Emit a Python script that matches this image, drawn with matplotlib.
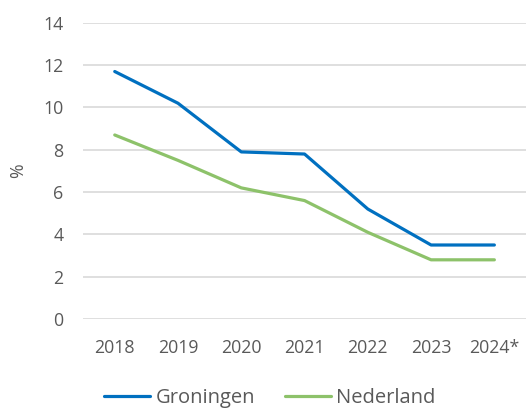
import matplotlib
matplotlib.use("Agg")
import matplotlib.pyplot as plt

years = ["2018", "2019", "2020", "2021", "2022", "2023", "2024*"]
groningen = [11.7, 10.2, 7.9, 7.8, 5.2, 3.5, 3.5]
nederland = [8.7, 7.5, 6.2, 5.6, 4.1, 2.8, 2.8]
yticks = [0, 2, 4, 6, 8, 10, 12, 14]

plt.rcParams['font.family'] = ['Open Sans', 'DejaVu Sans']
fig = plt.figure(figsize=(5.26, 4.08), dpi=100)
ax = fig.add_axes([0.158, 0.218, 0.842, 0.726])

x = list(range(len(years)))
l1, = ax.plot(x, groningen, color="#0070C0", lw=2.3, solid_capstyle='round', label="Groningen")
l2, = ax.plot(x, nederland, color="#8DC26A", lw=2.3, solid_capstyle='round', label="Nederland")

ax.set_xlim(-0.5, len(years) - 0.5)
ax.set_ylim(0, 14)
ax.set_yticks(yticks)
ax.set_xticks(x)
ax.set_xticklabels(years)
ax.grid(axis='y', color="#D9D9D9", lw=1.2)
ax.set_axisbelow(True)
for s in ax.spines.values():
    s.set_visible(False)
ax.tick_params(length=0, labelsize=12.8, colors="#595959")
ax.tick_params(axis='y', pad=14)
ax.tick_params(axis='x', pad=14)
ax.set_ylabel("%", fontsize=12.8, color="#595959", labelpad=12)

fig.legend(handles=[l1, l2], loc='center', bbox_to_anchor=(0.513, 0.025), ncol=2,
           frameon=False, fontsize=14.5, labelcolor="#595959", handlelength=2.3,
           handletextpad=0.25, columnspacing=1.5)

fig.savefig("out.png", dpi=100)
